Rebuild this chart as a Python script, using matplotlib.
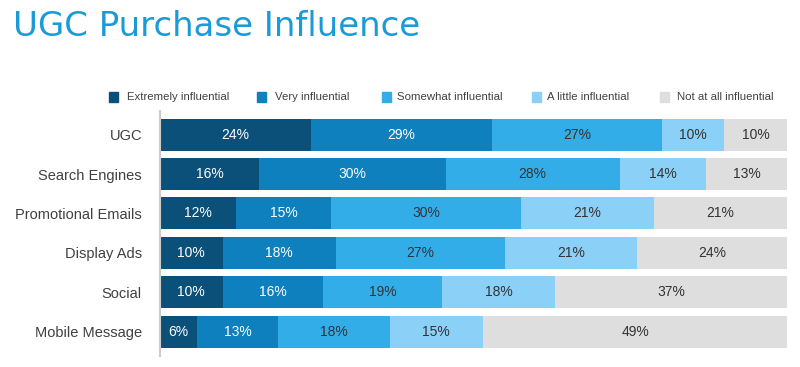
import numpy as np
import matplotlib.pyplot as plt
from matplotlib.patches import Rectangle

plt.rcParams['font.family'] = ['Liberation Sans', 'DejaVu Sans']

# Data
channels = ['UGC', 'Search Engines', 'Promotional Emails', 'Display Ads', 'Social', 'Mobile Message']
levels = ['Extremely influential', 'Very influential', 'Somewhat influential',
          'A little influential', 'Not at all influential']
extremely = [24, 16, 12, 10, 10, 6]
very = [29, 30, 15, 18, 16, 13]
somewhat = [27, 28, 30, 27, 19, 18]
a_little = [10, 14, 21, 21, 18, 15]
not_at_all = [10, 13, 21, 24, 37, 49]

colors = ['#0b5079', '#0e80bd', '#33ade8', '#8bd0f6', '#dedede']
text_colors = ['white', 'white', '#333333', '#333333', '#333333']

values = np.array([extremely, very, somewhat, a_little, not_at_all], dtype=float)
shares = values / values.sum(axis=0) * 100  # bars fill the full width

W, H = 800, 367
fig = plt.figure(figsize=(W / 100, H / 100), dpi=100)
ax = fig.add_axes([0.2, 0.031, 0.784, 0.667])

y = np.arange(len(channels))
left = np.zeros(len(channels))
for i in range(len(levels)):
    ax.barh(y, shares[i], left=left, height=0.81, color=colors[i], label=levels[i])
    for j in range(len(channels)):
        ax.text(left[j] + shares[i][j] / 2, y[j], f'{int(values[i][j])}%',
                ha='center', va='center', fontsize=10, color=text_colors[i])
    left += shares[i]

ax.set_xlim(0, 100)
ax.set_ylim(len(channels) - 0.4, -0.6)
ax.set_yticks(y)
ax.set_yticklabels(channels, fontsize=10.5, color='#404040')
ax.tick_params(axis='y', length=0, pad=13)
ax.set_xticks([])
for s in ['top', 'right', 'bottom']:
    ax.spines[s].set_visible(False)
ax.spines['left'].set_color('#cccccc')
ax.spines['left'].set_linewidth(1.5)

# Title
fig.text(13 / W, 1 - 26 / H, 'UGC Purchase Influence', fontsize=24.5,
         family=['DejaVu Sans'], color='#1a9bd7', va='center')

# Legend, laid out by hand like the source
legend_sq = [109, 257, 382, 532, 660]
legend_txt = [127, 275, 397, 547, 677]
legend_y = 97
for xs, xt, lab, c in zip(legend_sq, legend_txt, levels, colors):
    fig.patches.append(Rectangle((xs / W, 1 - (legend_y + 4.5) / H), 9 / W, 9 / H,
                                 transform=fig.transFigure, color=c))
    fig.text(xt / W, 1 - legend_y / H, lab, fontsize=8.2, color='#404040',
             va='center')

fig.savefig('out.png', dpi=100)
